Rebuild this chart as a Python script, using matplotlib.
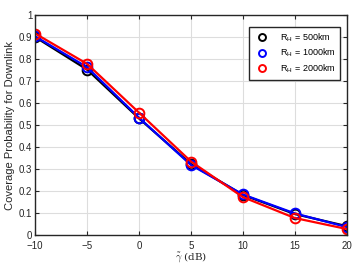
import numpy as np
import matplotlib as mpl
mpl.use('Agg')
import matplotlib.pyplot as plt
from matplotlib.lines import Line2D

plt.rcParams['font.family'] = ['Liberation Sans', 'DejaVu Sans']
plt.rcParams['mathtext.fontset'] = 'cm'

gamma_db = [-10, -5, 0, 5, 10, 15, 20]
cov_500 = [0.900, 0.752, 0.530, 0.322, 0.182, 0.095, 0.040]
cov_1000 = [0.903, 0.763, 0.533, 0.318, 0.184, 0.098, 0.036]
cov_2000 = [0.916, 0.778, 0.556, 0.334, 0.172, 0.077, 0.027]

labels = [r'R$_\mathregular{H}$ = 500km', r'R$_\mathregular{H}$ = 1000km',
          r'R$_\mathregular{H}$ = 2000km']
colors = ['black', 'blue', 'red']

fig = plt.figure(figsize=(3.55, 2.64), dpi=100)
ax = fig.add_axes([0.099, 0.110, 0.878, 0.833])

for yv, c in zip([cov_500, cov_1000, cov_2000], colors):
    ax.plot(gamma_db, yv, color=c, lw=1.6, marker='o', markersize=7,
            markerfacecolor='none', markeredgewidth=1.4)

ax.set_xlim(-10, 20)
ax.set_ylim(0, 1)
ax.set_xticks(np.arange(-10, 21, 5))
ax.set_yticks(np.arange(0, 1.01, 0.1))
ax.set_yticklabels(['0', '0.1', '0.2', '0.3', '0.4', '0.5', '0.6', '0.7', '0.8', '0.9', '1'])
ax.grid(True, color='#dddddd', lw=0.8)
ax.set_axisbelow(True)
ax.tick_params(direction='in', length=3, width=0.8, labelsize=7, colors='#262626',
               top=True, right=True)
ax.tick_params(axis='x', pad=4)
ax.tick_params(axis='y', pad=2)
for s in ax.spines.values():
    s.set_linewidth(1.0)
    s.set_color('#262626')

ax.set_xlabel(r'$\tilde{\gamma}$ (dB)', family='DejaVu Serif', fontsize=7.5, labelpad=0,
              color='#262626')
ax.set_ylabel('Coverage Probability for Downlink', fontsize=8, labelpad=3,
              color='#262626')

handles = [Line2D([], [], color=c, ls='none', marker='o', markersize=5,
                  markerfacecolor='none', markeredgewidth=1.4) for c in colors]
leg = ax.legend(handles, labels, loc='upper right', fontsize=6.5, fancybox=False,
                edgecolor='#262626', framealpha=1, handletextpad=1.0, borderpad=0.5,
                labelspacing=0.35, bbox_to_anchor=(0.994, 0.968))
leg.get_frame().set_linewidth(1.0)

fig.savefig('out.png', dpi=100)
